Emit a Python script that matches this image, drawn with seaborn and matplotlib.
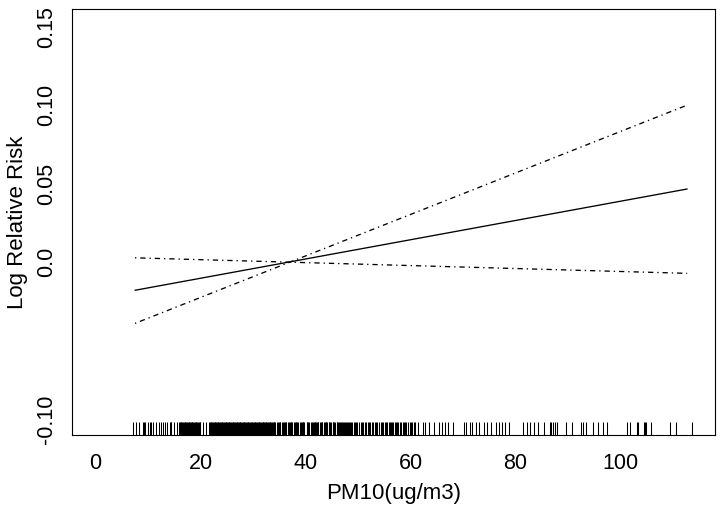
import numpy as np
import pandas as pd
import matplotlib
matplotlib.use("Agg")
import matplotlib.pyplot as plt
import seaborn as sns

# ---- data ----
line_x = [7.5, 112.7]
est = [-0.018, 0.0466]
upper = [-0.0391, 0.1001]
lower = [0.0027, -0.0072]

pm10_obs = [
    7.2, 7.7, 8.2,
    9.1, 9.3, 9.4, 9.9, 10.4, 10.6, 11.0, 11.5, 12.0, 12.4, 12.9, 13.2, 13.6, 14.1, 14.3, 14.4,
    14.9, 15.5,
    15.90, 16.05, 16.20, 16.35, 16.50, 16.65, 16.80, 16.95, 17.10, 17.25, 17.40, 17.55, 17.70,
    17.85, 18.00, 18.15, 18.30, 18.45, 18.60, 18.75, 18.90, 19.05, 19.20, 19.35, 19.50, 19.65,
    19.80, 19.95, 20.4, 21.1,
    21.60, 21.75, 21.90, 22.05, 22.20, 22.35, 22.50, 22.65, 22.80, 22.95, 23.10, 23.25, 23.40,
    23.55, 23.70, 23.85, 24.00, 24.15, 24.30, 24.45, 24.60, 24.75, 24.90, 25.05, 25.20, 25.35,
    25.50, 25.65, 25.80, 25.95, 26.10, 26.25, 26.40, 26.55, 26.70, 26.85, 27.00, 27.15, 27.30,
    27.45, 27.60, 27.75, 27.90, 28.05, 28.20, 28.35, 28.50, 28.65, 28.80, 28.95, 29.10, 29.25,
    29.40, 29.55, 29.70, 29.85, 30.00, 30.15, 30.30, 30.45, 30.60, 30.75, 30.90, 31.05, 31.20,
    31.35, 31.50, 31.65, 31.80, 31.95, 32.10, 32.25, 32.40, 32.55, 32.70, 32.85, 33.00, 33.15,
    33.30, 33.45, 33.60, 33.75, 33.90,
    34.0, 34.15, 34.6, 34.75, 34.9, 35.05, 35.2, 35.6, 35.75, 35.9, 36.05, 36.2, 36.35, 36.7,
    36.85, 37.0, 37.15, 37.3, 37.45, 37.8, 37.95, 38.1, 38.25, 38.4, 38.55, 39.0, 39.15, 39.3,
    39.45, 39.6, 39.75, 40.2, 40.35, 40.5, 40.65, 41.1, 41.25, 41.4, 41.55, 41.7, 41.85,
    42.0, 42.15, 42.3, 42.45, 42.75, 42.9, 43.05, 43.2, 43.5, 43.65, 43.8, 43.95, 44.1, 44.4,
    44.55, 44.7, 44.85, 45.15, 45.3, 45.45, 45.6, 45.9, 46.05, 46.2, 46.35, 46.5, 46.8, 46.95,
    47.1, 47.25, 47.55, 47.7, 47.85,
    48.0, 48.2, 48.5, 48.7, 48.9, 49.2, 49.4, 49.6, 49.8, 50.2, 50.5, 50.7, 50.9, 51.3, 51.5,
    51.9, 52.1, 52.3, 52.7, 52.9, 53.3, 53.5, 53.7, 54.0, 54.4, 54.6, 54.8, 55.1, 55.4, 55.6,
    55.8, 56.0, 56.2, 56.5, 56.7, 57.0, 57.2, 57.5, 57.7, 58.0, 58.2, 58.5, 58.7, 59.0, 59.2,
    59.5, 59.8, 60.0, 60.3, 60.6, 60.9,
    61.4, 62.3, 62.8, 63.6, 64.5, 65.5, 66.0, 66.6, 67.1, 68.0, 70.1, 70.6, 71.3, 71.8, 72.5,
    73.1, 73.9, 74.5, 75.3, 76.3, 76.8,
    77.4, 77.9, 78.8, 81.4, 82.2, 82.8, 83.5, 84.3, 85.4, 86.5, 86.8, 87.2, 87.5, 87.9, 89.7,
    90.8, 92.4, 92.9, 93.5, 94.8, 95.8, 96.6, 97.4, 101.3, 101.8, 103.1, 103.4, 104.5, 104.7,
    104.9, 105.9, 109.4, 110.6, 113.6,
]

x_ticks = [0, 20, 40, 60, 80, 100]
y_ticks = [-0.10, -0.05, 0.0, 0.05, 0.10, 0.15]
y_tick_labels = ["-0.10", "", "0.0", "0.05", "0.10", "0.15"]
x_label = "PM10(ug/m3)"
y_label = "Log Relative Risk"

# ---- build long table ----
df = pd.DataFrame({
    "pm10": line_x * 3,
    "lrr": est + upper + lower,
    "curve": ["est"] * 2 + ["upper"] * 2 + ["lower"] * 2,
})

sns.set_style("white")
plt.rcParams["font.family"] = ["Liberation Sans", "DejaVu Sans"]

fig = plt.figure(figsize=(7.25, 5.12), dpi=100)
ax = fig.add_axes([72 / 725, 1 - 435 / 512, 643 / 725, 426 / 512])

sns.lineplot(
    data=df, x="pm10", y="lrr", style="curve", color="black",
    dashes={"est": "", "upper": (1, 3, 4, 3), "lower": (1, 3, 4, 3)},
    linewidth=0.95, legend=False, ax=ax,
)
sns.rugplot(x=pm10_obs, height=0.03, color="black", linewidth=0.75,
            expand_margins=False, ax=ax)

ax.set_xlim(-4.5, 118.0)
ax.set_ylim(-0.1103, 0.1614)
ax.set_xticks(x_ticks)
ax.set_xticklabels([str(v) for v in x_ticks])
ax.set_yticks(y_ticks)
ax.set_yticklabels(y_tick_labels, rotation=90, va="center")

for s in ax.spines.values():
    s.set_visible(True)
    s.set_color("black")
    s.set_linewidth(0.8)

ax.tick_params(axis="both", direction="out", length=5.8, width=0.8,
               color="black", labelsize=15.5, labelcolor="black")
ax.tick_params(axis="x", pad=7)
ax.tick_params(axis="y", pad=5)

ax.set_xlabel(x_label, fontsize=16, labelpad=7, color="black")
ax.set_ylabel(y_label, fontsize=16, labelpad=6, color="black")

fig.savefig("out.png", dpi=100)
